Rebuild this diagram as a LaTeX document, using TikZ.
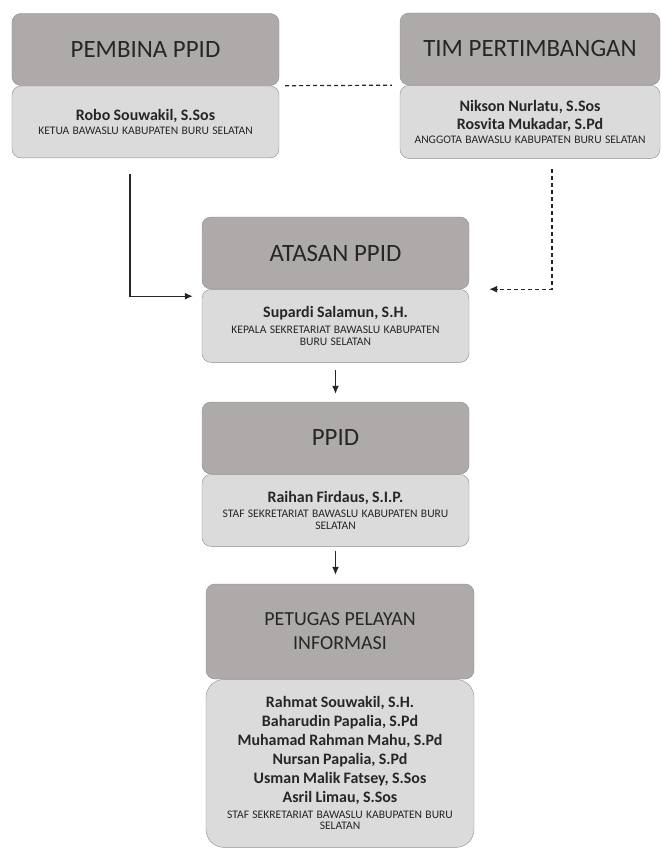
\documentclass[tikz,border=0pt]{standalone}
\usepackage{fontspec}
\setmainfont{Carlito}
\usetikzlibrary{arrows.meta,calc}
\definecolor{headgray}{HTML}{AEAAAA}
\definecolor{bodygray}{HTML}{DBDBDB}
\definecolor{edgegray}{HTML}{8C8C8C}
\definecolor{inkgray}{HTML}{262626}
\newcommand\namefont{\fontsize{16}{19}\selectfont\bfseries}
\newcommand\capfont{\fontsize{11.6}{13.5}\selectfont\mdseries}

\begin{document}
\begin{tikzpicture}[x=1bp, y=-1bp,
    head/.style={draw=edgegray, fill=headgray, rounded corners=9bp,
        minimum width=267bp, minimum height=72bp, inner sep=0pt,
        text=inkgray, font=\fontsize{25}{30}\selectfont, align=center},
    body/.style={draw=edgegray, fill=bodygray, rounded corners=9bp,
        minimum width=267bp, minimum height=72bp, inner sep=0pt,
        text width=258bp, align=center, text=inkgray, anchor=north},
    conn/.style={draw=inkgray, line width=1.2bp, -{Latex[length=8bp,width=7bp]}},
    link/.style={draw=inkgray, line width=1.2bp, dash pattern=on 4bp off 3bp}
    ]
    \useasboundingbox (0,0) rectangle (662,848);

    % Top row
    \node[head] (hPembina) at (145.5,49.5) {PEMBINA PPID};
    \node[body] (bPembina) at (hPembina.south)
        {\namefont Robo Souwakil, S.Sos\\[2bp] \capfont KETUA BAWASLU KABUPATEN BURU SELATAN};

    \node[head, minimum width=260bp] (hTim) at (530,49) {TIM PERTIMBANGAN};
    \node[body, minimum width=260bp, minimum height=73bp] (bTim) at (hTim.south)
        {\namefont Nikson Nurlatu, S.Sos\\ Rosvita Mukadar, S.Pd\\[2bp]
         \capfont ANGGOTA BAWASLU KABUPATEN BURU SELATAN};

    % Atasan PPID
    \node[head] (hAtasan) at (335.5,253) {ATASAN PPID};
    \node[body, minimum height=73bp] (bAtasan) at (hAtasan.south)
        {\namefont Supardi Salamun, S.H.\\[2bp] \capfont KEPALA SEKRETARIAT BAWASLU KABUPATEN\\ BURU SELATAN};

    % PPID
    \node[head] (hPpid) at (335.5,438) {PPID};
    \node[body] (bPpid) at (hPpid.south)
        {\namefont Raihan Firdaus, S.I.P.\\[2bp] \capfont STAF SEKRETARIAT BAWASLU KABUPATEN BURU\\ SELATAN};

    % Petugas
    \node[head, minimum width=268bp, minimum height=95bp,
        font=\fontsize{20}{24}\selectfont] (hPetugas) at (340,631.5)
        {PETUGAS PELAYAN\\ INFORMASI};
    \node[body, minimum width=268bp, minimum height=168bp, rounded corners=18bp] (bPetugas) at (hPetugas.south)
        {\namefont Rahmat Souwakil, S.H.\\ Baharudin Papalia, S.Pd\\ Muhamad Rahman Mahu, S.Pd\\
         Nursan Papalia, S.Pd\\ Usman Malik Fatsey, S.Sos\\ Asril Limau, S.Sos\\[2bp]
         \capfont STAF SEKRETARIAT BAWASLU KABUPATEN BURU\\ SELATAN};

    % Connectors
    \coordinate (lTop) at (130,174);
    \coordinate (rTop) at (552,169);
    \draw[link] ([xshift=6bp]hPembina.south east) -- ([xshift=-8bp]hTim.south west);
    \draw[conn] (lTop) |- ([xshift=-9bp,yshift=-7bp]hAtasan.south west);
    \draw[conn, dash pattern=on 4bp off 3bp] (rTop) |- ([xshift=20bp]hAtasan.south east);
    \draw[conn] ([yshift=-7bp]bAtasan.south) -- ([yshift=8bp]hPpid.north);
    \draw[conn] ([yshift=-4bp]bPpid.south) -- ($(bPpid.south |- hPetugas.north)+(0,-9)$);
\end{tikzpicture}
\end{document}
